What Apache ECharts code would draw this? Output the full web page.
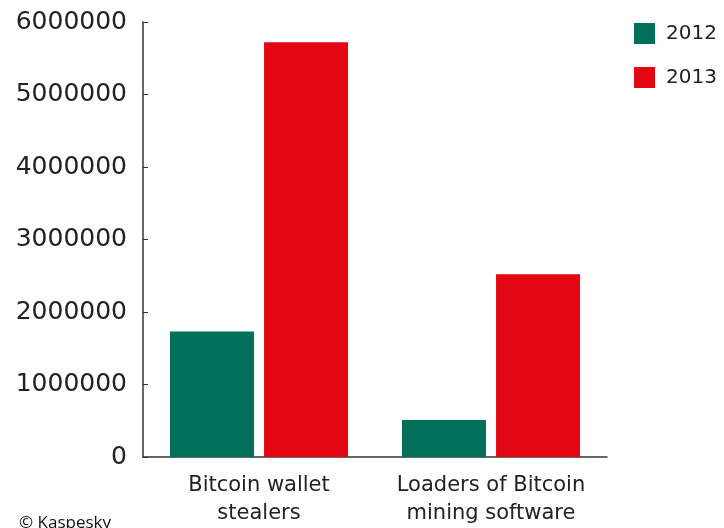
<html>
<head>
    <meta charset="utf-8">
    <title>Bitcoin malware</title>
    <script src="https://cdn.jsdelivr.net/npm/echarts@6/dist/echarts.min.js"></script>
    <style>
        html, body { margin: 0; padding: 0; background: #fff; }
        #main { width: 724px; height: 528px; }
    </style>
</head>
<body>
    <div id="main"></div>
    <script>
        // data
        var categories = ['Bitcoin wallet\nstealers', 'Loaders of Bitcoin\nmining software'];
        var years = ['2012', '2013'];
        var values2012 = [1730000, 510000];
        var values2013 = [5720000, 2520000];
        var yTicks = [0, 1000000, 2000000, 3000000, 4000000, 5000000, 6000000];

        var green = '#00705b';
        var red = '#e30613';
        var font = 'DejaVu Sans';

        var myChart = echarts.init(document.getElementById('main'));

        var option = {
            backgroundColor: '#fff',
            animation: false,
            grid: { left: 143, right: 117, top: 22, bottom: 70 },
            legend: {
                orient: 'vertical',
                left: 629,
                top: 18,
                itemWidth: 21,
                itemHeight: 21,
                itemGap: 23,
                icon: 'rect',
                textStyle: { fontFamily: font, fontSize: 20, color: '#222', lineHeight: 21, padding: [0, 0, 0, 6] },
                data: years
            },
            xAxis: {
                type: 'category',
                data: categories,
                axisLine: { lineStyle: { color: '#333', width: 1.5 } },
                axisTick: { inside: true, length: 5, lineStyle: { color: '#333' } },
                axisLabel: {
                    interval: 0,
                    fontFamily: font, fontSize: 21, color: '#222',
                    lineHeight: 28, margin: 15
                }
            },
            yAxis: {
                type: 'value',
                min: yTicks[0],
                max: yTicks[yTicks.length - 1],
                interval: yTicks[1] - yTicks[0],
                axisLine: { show: true, lineStyle: { color: '#333', width: 1.5 } },
                axisTick: { show: true, inside: true, length: 5, lineStyle: { color: '#333' } },
                splitLine: { show: false },
                axisLabel: {
                    fontFamily: font, fontSize: 25, color: '#222', margin: 16,
                    formatter: function (v) { return String(v); }
                }
            },
            series: [
                {
                    name: years[0],
                    type: 'bar',
                    data: values2012,
                    barWidth: 84,
                    barGap: '12%',
                    itemStyle: { color: green }
                },
                {
                    name: years[1],
                    type: 'bar',
                    data: values2013,
                    barWidth: 84,
                    barGap: '12%',
                    itemStyle: { color: red }
                }
            ],
            graphic: [{
                type: 'text',
                left: 19,
                top: 515,
                style: { text: '© Kaspesky', fontFamily: 'Open Sans', fontSize: 17, fill: '#111' }
            }]
        };
        myChart.setOption(option);
    </script>
</body>
</html>
